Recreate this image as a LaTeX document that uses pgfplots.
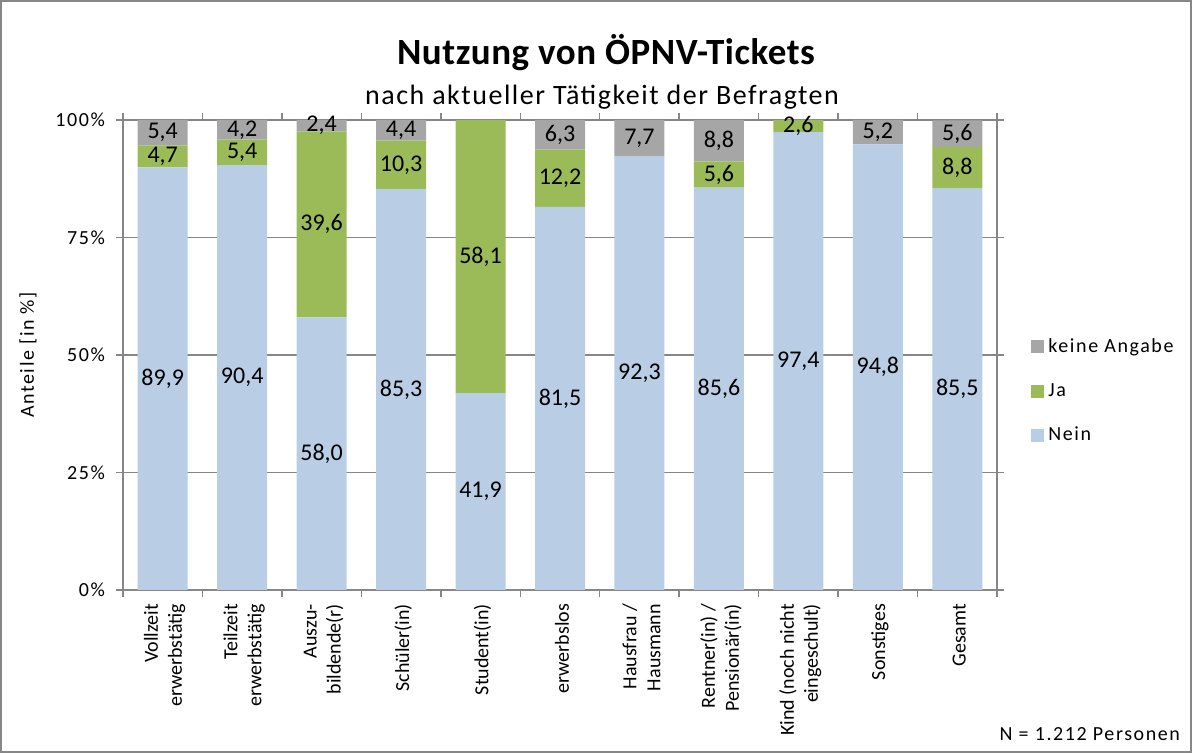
\documentclass[border=0pt]{standalone}
\usepackage{fontspec}
\setmainfont{Carlito}[LetterSpace=8]
\newfontfamily\plainfont{Carlito}
\newfontfamily\titlefont{Carlito}[LetterSpace=1.5]
\newfontfamily\subfont{Carlito}[LetterSpace=5.5]
\usepackage{pgfplots}
\pgfplotsset{compat=1.18}
\definecolor{nein}{HTML}{B9CDE5}
\definecolor{ja}{HTML}{9BBB59}
\definecolor{kA}{HTML}{A6A6A6}
\definecolor{axgray}{HTML}{868686}

\begin{document}
\begin{tikzpicture}[x=1pt,y=1pt]
\useasboundingbox (0,0) rectangle (596,376.5);
\draw[axgray, line width=0.75pt] (0.5,0.5) rectangle (595.5,376);
\begin{axis}[
  at={(61.5pt,81.5pt)}, anchor=south west,
  width=437pt, height=235pt, scale only axis,
  ybar stacked, bar width=25pt,
  xmin=-0.5, xmax=10.5, ymin=0, ymax=100,
  xtick={-0.5,0.5,...,10.5},
  x tick label as interval,
  xticklabels={{Vollzeit\\erwerbstätig},{Teilzeit\\erwerbstätig},{Auszu-\\bildende(r)},{Schüler(in)},{Student(in)},{erwerbslos},{Hausfrau /\\Hausmann},{Rentner(in) /\\Pensionär(in)},{Kind (noch nicht\\eingeschult)},{Sonstiges},{Gesamt}},
  xticklabel style={rotate=90, anchor=east, align=right, font=\plainfont\fontsize{10}{12}\selectfont, yshift=-1pt},
  ytick={0,25,50,75,100},
  yticklabels={0\%,25\%,50\%,75\%,100\%},
  yticklabel style={font=\fontsize{10}{12}\selectfont, xshift=-2pt},
  /pgf/number format/assume math mode=true,
  tick align=outside, major tick length=3.5pt,
  tick style={axgray, line width=0.75pt},
  axis line style={axgray, line width=0.75pt},
  ymajorgrids, grid style={axgray, line width=0.75pt},
  ylabel={Anteile [in \%]},
  ylabel style={at={(rel axis cs:-0.1087,0.5)}, anchor=center, font=\fontsize{10}{12}\selectfont},
  visualization depends on={rawy \as \rawy},
  nodes near coords={\ifdim\rawy pt>0.05pt\pgfmathprintnumber[fixed,fixed zerofill,precision=1,use comma]{\rawy}\fi},
  nodes near coords style={anchor=center, font=\plainfont\fontsize{12}{14}\selectfont, text=black},
  legend style={draw=none, fill=none, at={(1.032,0.553)}, anchor=north west, font=\fontsize{10}{12}\selectfont, row sep=10pt},
  legend cell align=left,
  reverse legend,
]
\addplot[fill=nein, draw=none, legend image code/.code={\fill[nein] (0pt,-3.25pt) rectangle (6.5pt,3.25pt);}] coordinates {
  (0,89.9) (1,90.4) (2,58.0) (3,85.3) (4,41.9) (5,81.5) (6,92.3) (7,85.6) (8,97.4) (9,94.8) (10,85.5)};
\addplot[fill=ja, draw=none, legend image code/.code={\fill[ja] (0pt,-3.25pt) rectangle (6.5pt,3.25pt);}] coordinates {
  (0,4.7) (1,5.4) (2,39.6) (3,10.3) (4,58.1) (5,12.2) (6,0) (7,5.6) (8,2.6) (9,0) (10,8.8)};
\addplot[fill=kA, draw=none, legend image code/.code={\fill[kA] (0pt,-3.25pt) rectangle (6.5pt,3.25pt);}] coordinates {
  (0,5.4) (1,4.2) (2,2.4) (3,4.4) (4,0) (5,6.3) (6,7.7) (7,8.8) (8,0) (9,5.2) (10,5.6)};
\legend{Nein,Ja,keine Angabe}
\end{axis}
\node[font=\titlefont\fontsize{18.5}{22}\selectfont\bfseries] at (303,350) {Nutzung von ÖPNV-Tickets};
\node[font=\subfont\fontsize{14}{17}\selectfont] at (301,328) {nach aktueller Tätigkeit der Befragten};
\node[font=\fontsize{10}{12}\selectfont, anchor=base east] at (593.5,6) {N = 1.212 Personen};
\end{tikzpicture}
\end{document}
